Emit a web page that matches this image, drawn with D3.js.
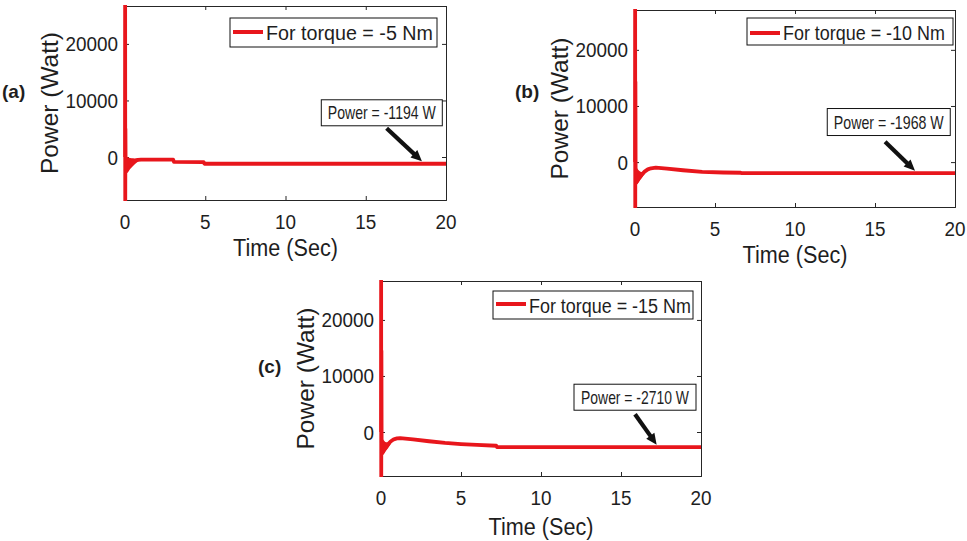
<!DOCTYPE html>
<html><head><meta charset="utf-8">
<script src="https://cdn.jsdelivr.net/npm/d3@7/dist/d3.min.js"></script>
<style>
body{margin:0;background:#fff}
svg{display:block}
text{font-family:"Liberation Sans",Arial,Helvetica,sans-serif;fill:#1e1e1e}
</style>
</head><body>
<svg id="chart" width="967" height="541"></svg>
<script>
// ---------------- data ----------------
const xTicks = [0, 5, 10, 15, 20];
const yTicks = [0, 10000, 20000];
const panelLabels = ["(a)", "(b)", "(c)"];
const torques = [-5, -10, -15];
const steadyPower = [-1194, -1968, -2710];

const yLimitsA = [-7600, 26700];
const yLimitsB = [-8000, 27100];
const yLimitsC = [-7850, 26950];

// panel (a): torque -5 Nm
const timeA  = [0, 0.008, 0.016, 0.026, 0.04, 0.06, 0.1, 0.2, 0.4, 0.6, 0.8, 1.0, 2.0, 3.0, 3.05, 4.9, 4.95, 20];
const powerA = [0, 27200, -7800, 5000, -2600, -1500, -1700, -1400, -1000, -700, -500, -450, -450, -450, -850, -900, -1194, -1194];
const bandTimeA = [0.04, 0.15, 0.3, 0.5, 0.7, 0.9];
const bandHighA = [0, -150, -300, -350, -400, -450];
const bandLowA  = [-2900, -2600, -2000, -1400, -850, -500];

// panel (b): torque -10 Nm
const timeB  = [0, 0.008, 0.016, 0.026, 0.04, 0.1, 0.2, 0.4, 0.6, 0.8, 1.0, 1.3, 2.0, 3.0, 4.2, 5.5, 6.6, 6.65, 20];
const powerB = [0, 27300, -8100, 14300, -3800, -3500, -3000, -2300, -1700, -1300, -1100, -1000, -1150, -1450, -1750, -1850, -1900, -1968, -1968];
const bandTimeB = [0.04, 0.12, 0.25, 0.4, 0.55];
const bandHighB = [-900, -1300, -1700, -1900, -1800];
const bandLowB  = [-3900, -3800, -3300, -2700, -2100];

// panel (c): torque -15 Nm
const timeC  = [0, 0.008, 0.016, 0.026, 0.04, 0.1, 0.2, 0.4, 0.6, 0.8, 1.0, 1.2, 2.0, 3.0, 4.0, 5.0, 6.0, 7.2, 7.25, 20];
const powerC = [0, 27100, -7950, 14500, -3900, -3600, -3100, -2300, -1700, -1300, -1150, -1100, -1300, -1650, -1950, -2150, -2300, -2450, -2710, -2710];
const bandTimeC = [0.04, 0.12, 0.25, 0.4, 0.55];
const bandHighC = [-1200, -1500, -1900, -2000, -1900];
const bandLowC  = [-4100, -3900, -3400, -2800, -2200];

// ---------------- layout ----------------
const panels = [
  {time: timeA, power: powerA, bt: bandTimeA, bh: bandHighA, bl: bandLowA, ylim: yLimitsA,
   left: 125, right: 446, top: 6, bottom: 200, xLabelY: 256,
   tag: {x: 2, y: 98},
   legend: {x: 230, y: 18, w: 207, h: 29, tl: 167, lineY: 14},
   note: {boxT: 16.0, boxV: 7820, w: 121, h: 26, tl: 108, fromT: 16.3, fromV: 5100, tipT: 18.5}},
  {time: timeB, power: powerB, bt: bandTimeB, bh: bandHighB, bl: bandLowB, ylim: yLimitsB,
   left: 635, right: 955, top: 10, bottom: 207, xLabelY: 263,
   tag: {x: 515, y: 98},
   legend: {x: 747, y: 18, w: 206, h: 27, tl: 162, lineY: 15},
   note: {boxT: 15.86, boxV: 7140, w: 123, h: 27, tl: 110, fromT: 15.63, fromV: 3630, tipT: 17.5}},
  {time: timeC, power: powerC, bt: bandTimeC, bh: bandHighC, bl: bandLowC, ylim: yLimitsC,
   left: 381, right: 701, top: 281, bottom: 476, xLabelY: 535,
   tag: {x: 258, y: 373},
   legend: {x: 493, y: 291, w: 200, h: 28, tl: 162, lineY: 13},
   note: {boxT: 15.875, boxV: 6210, w: 122, h: 26, tl: 108, fromT: 15.875, fromV: 3160, tipT: 17.23}}
];

const RED = "#e8161c";
const AXIS = "#262626";
const svg = d3.select("#chart");

function sText(g, x, y, str, size, sx, anchor, weight) {
  const t = g.append("g").attr("transform", `translate(${x},${y}) scale(${sx},1)`)
    .append("text").attr("x", 0).attr("y", 0)
    .attr("font-size", size).attr("text-anchor", anchor || "start")
    .text(str);
  if (weight) t.attr("font-weight", weight);
  return t;
}
// text squeezed to a given on-screen width
function fitText(g, x, y, str, size, width, anchor) {
  const gg = g.append("g");
  const t = gg.append("text").attr("x", 0).attr("y", 0)
    .attr("font-size", size).attr("text-anchor", anchor || "start").text(str);
  const w = t.node().getComputedTextLength() || width;
  gg.attr("transform", `translate(${x},${y}) scale(${width / w},1)`);
  return t;
}

panels.forEach((p, i) => {
  const g = svg.append("g");
  const x = d3.scaleLinear().domain([0, 20]).range([p.left, p.right]);
  const y = d3.scaleLinear().domain(p.ylim).range([p.bottom, p.top]);

  // clip (a little room on the left so the t=0 spike keeps its full width)
  const cid = "clip" + i;
  svg.append("clipPath").attr("id", cid).append("rect")
    .attr("x", p.left - 3).attr("y", p.top - 1).attr("width", p.right - p.left + 3).attr("height", p.bottom - p.top + 2);

  // axes box with inward ticks on all sides
  const tl = 4;
  const axB = d3.axisBottom(x).tickValues(xTicks).tickSize(-tl).tickFormat("");
  const axT = d3.axisTop(x).tickValues(xTicks).tickSize(-tl).tickFormat("");
  const axL = d3.axisLeft(y).tickValues(yTicks).tickSize(-tl).tickFormat("");
  const axR = d3.axisRight(y).tickValues(yTicks).tickSize(-tl).tickFormat("");
  [[axB, `translate(0,${p.bottom})`], [axT, `translate(0,${p.top})`],
   [axL, `translate(${p.left},0)`], [axR, `translate(${p.right},0)`]].forEach(([ax, tr]) => {
    const a = g.append("g").attr("transform", tr).call(ax);
    a.select(".domain").attr("stroke", AXIS).attr("stroke-width", 1);
    a.selectAll(".tick line").attr("stroke", AXIS).attr("stroke-width", 1);
  });

  // tick labels
  xTicks.forEach(v => sText(g, x(v), p.bottom + 29, String(v), 21, 0.9, "middle"));
  yTicks.forEach(v => sText(g, p.left - 7, y(v) + 7.5, String(v), 21, 0.9, "end"));

  // axis titles
  sText(g, (p.left + p.right) / 2, p.xLabelY, "Time (Sec)", 24, 0.9, "middle");
  g.append("text")
    .attr("transform", `translate(${p.left - 67},${(p.top + p.bottom) / 2}) rotate(-90)`)
    .attr("text-anchor", "middle").attr("font-size", 24.5).text("Power (Watt)");

  // panel tag
  sText(g, p.tag.x, p.tag.y, panelLabels[i], 19, 1, "start", "bold");

  // data
  const plot = g.append("g").attr("clip-path", `url(#${cid})`);
  const band = p.bt.map((t, k) => ({t, hi: p.bh[k], lo: p.bl[k]}));
  plot.append("path").datum(band)
    .attr("d", d3.area().x(d => x(d.t)).y0(d => y(d.lo)).y1(d => y(d.hi)).curve(d3.curveMonotoneX))
    .attr("fill", RED).attr("stroke", RED).attr("stroke-width", 1.5);
  const pts = p.time.map((t, k) => ({t, v: p.power[k]}));
  plot.append("path").datum(pts)
    .attr("d", d3.line().x(d => x(d.t)).y(d => y(d.v)))
    .attr("fill", "none").attr("stroke", RED).attr("stroke-width", 3.8)
    .attr("stroke-linejoin", "round");

  // legend
  const L = p.legend;
  g.append("rect").attr("x", L.x).attr("y", L.y).attr("width", L.w).attr("height", L.h)
    .attr("fill", "#fff").attr("stroke", "#111").attr("stroke-width", 1);
  g.append("line").attr("x1", L.x + 3).attr("x2", L.x + 33)
    .attr("y1", L.y + L.lineY).attr("y2", L.y + L.lineY)
    .attr("stroke", RED).attr("stroke-width", 4);
  fitText(g, L.x + 36, L.y + 22, `For torque = ${torques[i]} Nm`, 21, L.tl, "start");

  // annotation
  const N = p.note;
  const bx = x(N.boxT), by = y(N.boxV);
  g.append("rect").attr("x", bx - N.w / 2).attr("y", by - N.h / 2).attr("width", N.w).attr("height", N.h)
    .attr("fill", "#fff").attr("stroke", "#111").attr("stroke-width", 1);
  fitText(g, bx, by + 6.5, `Power = ${steadyPower[i]} W`, 18, N.tl, "middle");

  // arrow
  const x1 = x(N.fromT), y1 = y(N.fromV);
  const x2 = x(N.tipT), y2 = y(steadyPower[i]) - 2.5;
  const dx = x2 - x1, dy = y2 - y1, len = Math.hypot(dx, dy);
  const ux = dx / len, uy = dy / len, px = -uy, py = ux;
  const hl = 11, hw = 5;
  const bxh = x2 - ux * hl, byh = y2 - uy * hl;
  g.append("line").attr("x1", x1).attr("y1", y1).attr("x2", bxh + ux * 2).attr("y2", byh + uy * 2)
    .attr("stroke", "#111").attr("stroke-width", 4.2);
  g.append("path")
    .attr("d", `M${x2},${y2}L${bxh + px * hw},${byh + py * hw}L${bxh - px * hw},${byh - py * hw}Z`)
    .attr("fill", "#111");
});
</script>
</body></html>
